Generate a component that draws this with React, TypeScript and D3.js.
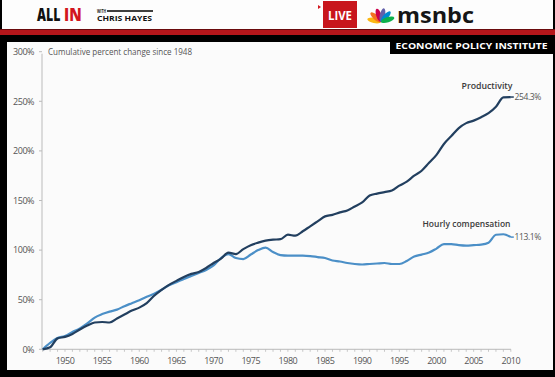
import React from "react";
import * as d3 from "d3";

const years: number[] = d3.range(1947, 2011);

const productivity: number[] = [
  0, 2, 11, 12.5, 15.5, 20, 24, 27, 27.5, 27, 31, 35, 39, 42, 46.5, 54, 60, 65, 69, 73,
  76, 78, 82, 87, 91.5, 97.5, 96, 101, 105, 107.5, 109.5, 110.5, 111, 115.5, 114.5, 119,
  124, 129, 134, 135.5, 138, 140, 144, 148, 155, 157, 158.5, 160, 165, 169, 175, 180, 188,
  196, 207, 215, 223, 228, 230.5, 234, 238, 244.5, 254, 254.3,
];

const compensation: number[] = [
  0, 6.5, 11.5, 13.5, 17.5, 21, 26, 32, 35.5, 38, 40, 43.5, 46.5, 49.5, 53, 56, 60, 64.5,
  67.5, 71, 74, 77, 80, 84.5, 92, 96, 92, 91, 95.5, 100, 102.5, 98, 95, 94.5, 94.5, 94.5,
  94, 93, 92, 89.5, 88.5, 87, 86, 85.5, 86, 86.5, 87, 86, 86, 89, 93.5, 95.5, 97.5, 101.5,
  106, 106, 105, 104.5, 105, 105.5, 107.5, 115.5, 116, 113.1,
];

const yTicks: number[] = [0, 50, 100, 150, 200, 250, 300];
const xTicks: number[] = [1950, 1955, 1960, 1965, 1970, 1975, 1980, 1985, 1990, 1995, 2000, 2005, 2010];

const seriesNames = ["Productivity", "Hourly compensation"];
const endLabels = ["254.3%", "113.1%"];
const subtitle = "Cumulative percent change since 1948";
const source = "ECONOMIC POLICY INSTITUTE";

const W = 555;
const H = 377;

const x = d3.scaleLinear().domain([1947, 2010]).range([42.7, 510.8]);
const y = d3.scaleLinear().domain([0, 300]).range([349.3, 51.7]);

const lineGen = d3
  .line<number>()
  .x((_, i) => x(years[i]))
  .y((v) => y(v))
  .curve(d3.curveMonotoneX);

const chartFont = "'Open Sans', 'Noto Sans', sans-serif";

const feathers = [
  { c: "#fcb711", a: -78 },
  { c: "#f37021", a: -48 },
  { c: "#cc004c", a: -18 },
  { c: "#6460aa", a: 12 },
  { c: "#0089d0", a: 42 },
  { c: "#0db14b", a: 72 },
];

export default function App() {
  const minorTicks = d3.range(1947, 2011);
  const prodEnd = productivity[productivity.length - 1];
  const compEnd = compensation[compensation.length - 1];
  const xEnd = x(years[years.length - 1]);
  return (
    <div style={{ position: "fixed", left: 0, top: 0, width: W, height: H }}>
      <svg width={W} height={H} style={{ display: "block" }}>
        <rect x={0} y={0} width={W} height={H} fill="#000" />
        {/* header */}
        <rect x={2} y={0} width={W - 4} height={29} fill="#fdfdfd" />
        <rect x={0} y={29} width={W} height={6} fill="#b5161b" />
        <rect x={0} y={29} width={W} height={1} fill="#6a0a0d" />
        <g transform="translate(37,21) scale(0.95,1.4)">
          <text x={0} y={0} fontFamily="'Open Sans', sans-serif" fontWeight={800} fontSize={13} fill="#111">ALL</text>
        </g>
        <g transform="translate(64,21) scale(1.15,1.4)">
          <text x={0} y={0} fontFamily="'Open Sans', sans-serif" fontWeight={800} fontSize={13} fill="#d2161e">IN</text>
        </g>
        <text x={97} y={12.5} fontFamily="'Open Sans', sans-serif" fontWeight={700} fontSize={4.5} fill="#111" textLength={9} lengthAdjust="spacingAndGlyphs">WITH</text>
        <rect x={107} y={10.2} width={46} height={1.6} fill="#111" />
        <text x={97} y={21} fontFamily="'Open Sans', sans-serif" fontWeight={700} fontSize={7.5} fill="#111" textLength={55} lengthAdjust="spacingAndGlyphs">CHRIS HAYES</text>
        <path d="M318,5 L321,7 L318,9 Z" fill="#d2161e" />
        <rect x={323} y={1} width={34} height={27} fill="#c8161d" />
        <text x={340} y={20} textAnchor="middle" fontFamily="'Open Sans', sans-serif" fontWeight={700} fontSize={13} fill="#fff" textLength={24} lengthAdjust="spacingAndGlyphs">LIVE</text>
        <g transform="translate(381,22)">
          {feathers.map((f, i) => (
            <ellipse key={i} cx={0} cy={-7} rx={2.6} ry={7} fill={f.c} transform={`rotate(${f.a})`} />
          ))}
        </g>
        <text x={397} y={22.5} fontFamily="'Open Sans', sans-serif" fontWeight={700} fontSize={21.5} fill="#151515" textLength={77} lengthAdjust="spacingAndGlyphs">msnbc</text>

        {/* panel */}
        <rect x={7} y={42} width={546} height={328} fill="#fbfbfb" />
        <rect x={390} y={35} width={163} height={19} fill="#000" />
        <text x={471.5} y={48.5} textAnchor="middle" fontFamily="'Open Sans', sans-serif" fontWeight={700} fontSize={8} fill="#fff" textLength={152} lengthAdjust="spacingAndGlyphs">{source}</text>

        {/* axes */}
        <line x1={42} x2={42} y1={y(300) + 2} y2={y(0)} stroke="#bbb" strokeWidth={1} />
        {yTicks.map((t) => (
          <g key={t}>
            <line x1={39} x2={42} y1={y(t)} y2={y(t)} stroke="#bbb" />
            <text x={34} y={y(t) + 3.3} textAnchor="end" fontFamily={chartFont} fontSize={9} fill="#555" letterSpacing={-0.5}>{`${t}%`}</text>
          </g>
        ))}
        <line x1={42} x2={511} y1={y(0)} y2={y(0)} stroke="#bbb" />
        {minorTicks.map((t) => (
          <line key={t} x1={x(t)} x2={x(t)} y1={y(0)} y2={y(0) + 2.5} stroke="#bbb" strokeWidth={0.8} />
        ))}
        {xTicks.map((t) => (
          <text key={t} x={x(t)} y={363.5} textAnchor="middle" fontFamily={chartFont} fontSize={9} fill="#555" letterSpacing={-0.5}>{t}</text>
        ))}
        <text x={48} y={55} fontFamily={chartFont} fontSize={9.5} fill="#555" textLength={144} lengthAdjust="spacingAndGlyphs">{subtitle}</text>

        {/* lines */}
        <path d={lineGen(compensation) || ""} fill="none" stroke="#4b8fc7" strokeWidth={2.2} strokeLinejoin="round" />
        <path d={lineGen(productivity) || ""} fill="none" stroke="#223f5f" strokeWidth={2.2} strokeLinejoin="round" />
        <line x1={xEnd} x2={xEnd + 3} y1={y(prodEnd)} y2={y(prodEnd)} stroke="#223f5f" strokeWidth={1.5} />
        <line x1={xEnd} x2={xEnd + 3} y1={y(compEnd)} y2={y(compEnd)} stroke="#4b8fc7" strokeWidth={1.5} />

        {/* labels */}
        <text x={512.5} y={88.5} textAnchor="end" fontFamily={chartFont} fontWeight={600} fontSize={9.5} fill="#3a3a3a" textLength={51} lengthAdjust="spacingAndGlyphs">{seriesNames[0]}</text>
        <text x={514.5} y={y(prodEnd) + 3} fontFamily={chartFont} fontSize={8.5} fill="#555" letterSpacing={-0.4}>{endLabels[0]}</text>
        <text x={510.5} y={226.5} textAnchor="end" fontFamily={chartFont} fontWeight={600} fontSize={9.5} fill="#3a3a3a" textLength={88} lengthAdjust="spacingAndGlyphs">{seriesNames[1]}</text>
        <text x={514.5} y={y(compEnd) + 3} fontFamily={chartFont} fontSize={8.5} fill="#555" letterSpacing={-0.4}>{endLabels[1]}</text>
      </svg>
    </div>
  );
}
